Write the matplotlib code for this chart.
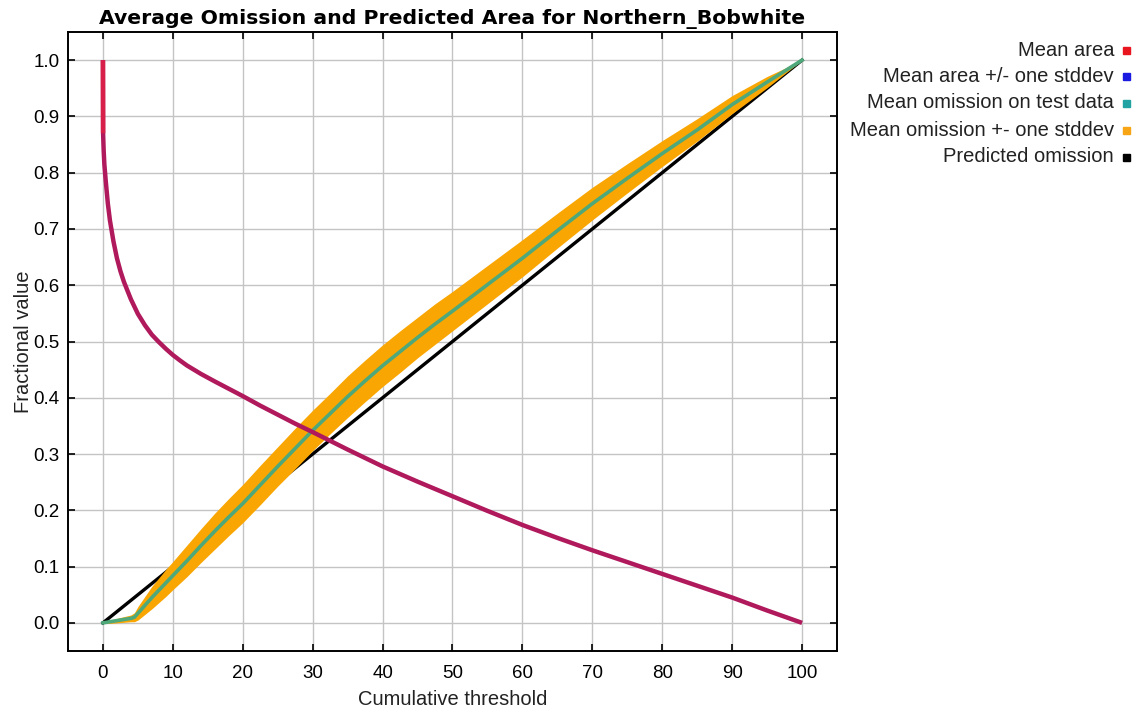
import matplotlib
matplotlib.use("Agg")
import matplotlib.pyplot as plt
from matplotlib.patches import Rectangle
import numpy as np

plt.rcParams['font.family'] = ['Liberation Sans', 'DejaVu Sans']

# ---- data ----
area_x = [0, 0.02, 0.1, 0.2, 0.4, 0.7, 1, 1.5, 2, 2.5, 3, 4, 5, 6, 7, 8, 9, 10, 11,
          12, 14, 16, 18, 20, 22.5, 25, 27.5, 30, 35, 40, 45, 50, 55, 60, 65, 70, 75,
          80, 85, 90, 95, 100]
area_y = [1.0, 0.87, 0.84, 0.815, 0.785, 0.745, 0.715, 0.678, 0.648, 0.625, 0.606,
          0.575, 0.549, 0.529, 0.512, 0.499, 0.487, 0.476, 0.4665, 0.4575, 0.4425,
          0.429, 0.416, 0.403, 0.386, 0.37, 0.354, 0.339, 0.308, 0.278, 0.251, 0.225,
          0.199, 0.174, 0.151, 0.129, 0.108, 0.087, 0.066, 0.045, 0.022, 0.0]

om_x = [0, 1, 2, 3, 4, 4.5, 5, 6, 7, 8, 9, 10, 12, 14, 16, 18, 20, 22.5, 25, 27.5,
        30, 32.5, 35, 37.5, 40, 42.5, 45, 47.5, 50, 55, 60, 65, 70, 75, 80, 85, 90,
        95, 100]
om_y = [0, 0.002, 0.004, 0.006, 0.008, 0.01, 0.017, 0.031, 0.045, 0.058, 0.071,
        0.084, 0.11, 0.137, 0.163, 0.188, 0.212, 0.245, 0.278, 0.31, 0.342, 0.372,
        0.402, 0.43, 0.457, 0.482, 0.507, 0.531, 0.554, 0.601, 0.648, 0.697, 0.745,
        0.79, 0.834, 0.876, 0.921, 0.961, 1.0]
om_sd = [0, 0.003, 0.004, 0.005, 0.006, 0.008, 0.012, 0.016, 0.02, 0.022, 0.024,
         0.025, 0.028, 0.03, 0.032, 0.033, 0.034, 0.035, 0.035, 0.036, 0.036, 0.036,
         0.037, 0.037, 0.037, 0.037, 0.036, 0.036, 0.035, 0.034, 0.033, 0.031, 0.029,
         0.026, 0.023, 0.02, 0.016, 0.01, 0.0]

pred_x = [0, 100]
pred_y = [0.0, 1.0]

x_ticks = [0, 10, 20, 30, 40, 50, 60, 70, 80, 90, 100]
y_ticks = [0.0, 0.1, 0.2, 0.3, 0.4, 0.5, 0.6, 0.7, 0.8, 0.9, 1.0]

legend_labels = ["Mean area", "Mean area +/- one stddev", "Mean omission on test data",
                 "Mean omission +- one stddev", "Predicted omission"]
legend_colors = ["#e8141e", "#1a1ae0", "#22a3a3", "#f7a515", "#000000"]

# ---- figure ----
W, H = 1142, 712
fig = plt.figure(figsize=(W / 100, H / 100), dpi=100)
ax = fig.add_axes([68 / W, 1 - 651 / H, (837 - 68) / W, (651 - 32) / H])

om_y_a = np.array(om_y)
om_sd_a = np.array(om_sd)

ax.plot(pred_x, pred_y, color='black', lw=2.4, zorder=2)
ax.fill_between(om_x, om_y_a - om_sd_a, om_y_a + om_sd_a, color='#f9a602',
                lw=0, zorder=3)
ax.plot(om_x, om_y, color='#4ea879', lw=2.6, zorder=4)
ax.plot(area_x, area_y, color='#b0195c', lw=3.2, zorder=5, solid_capstyle='butt')
ax.plot(area_x[:2], area_y[:2], color='#d81f4a', lw=3.2, zorder=6, solid_capstyle='butt')

ax.set_xlim(-5, 105)
ax.set_ylim(-0.05, 1.05)
ax.set_xticks(x_ticks)
ax.set_yticks(y_ticks)
ax.set_yticklabels([f"{v:.1f}" for v in y_ticks])
ax.grid(True, color='#c4c4c4', lw=1.0, zorder=0)
ax.set_axisbelow(True)
ax.tick_params(direction='in', length=5, width=1.2, top=True, right=True,
               labelsize=13.5, colors='black')
ax.tick_params(axis='x', pad=10)
ax.tick_params(axis='y', pad=6)
for s in ax.spines.values():
    s.set_linewidth(1.4)
    s.set_color('black')

ax.set_xlabel("Cumulative threshold", fontsize=14.5, color='#222222', labelpad=6)
ax.set_ylabel("Fractional value", fontsize=14.5, color='#222222', labelpad=0)
ax.set_title("Average Omission and Predicted Area for Northern_Bobwhite",
             fontsize=14.7, fontweight='bold', family=['DejaVu Sans'], pad=6)

# legend at right
row_y = [50, 76, 103, 130, 157]
for lab, col, yy in zip(legend_labels, legend_colors, row_y):
    fig.text(1114 / W, 1 - yy / H, lab, ha='right', va='center', fontsize=14.5,
             color='#222222')
    fig.patches.append(Rectangle((1123 / W, 1 - (yy + 4) / H), 7 / W, 7 / H,
                                 transform=fig.transFigure, color=col))

fig.savefig("out.png", dpi=100)
